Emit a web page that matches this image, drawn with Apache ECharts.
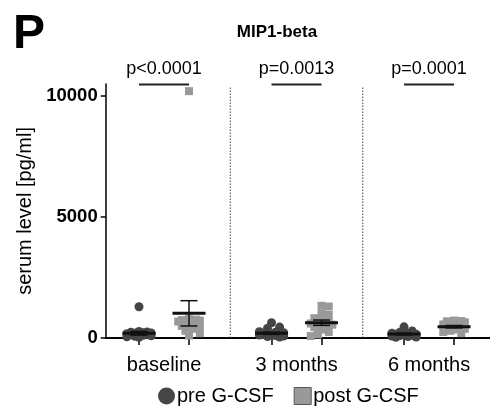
<!DOCTYPE html>
<html>
<head>
<meta charset="utf-8">
<script src="https://cdn.jsdelivr.net/npm/echarts@6/dist/echarts.min.js"></script>
<style>html,body{margin:0;padding:0;background:#fff}#c{width:490px;height:410px}</style>
</head>
<body>
<div id="c"></div>
<script>
// ---- data ----
const categories = ['baseline', '3 months', '6 months'];
const preValues = [
  [1290, 270, 250, 240, 220, 210, 200, 180, 170, 150, 130, 110, 90, 70, 50, 30],
  [630, 450, 400, 260, 240, 220, 200, 180, 160, 140, 120, 100, 80, 60, 40],
  [460, 290, 240, 200, 180, 160, 150, 130, 110, 100, 80, 60, 40, 30]
];
const postValues = [
  [10200, 780, 760, 740, 720, 700, 680, 650, 600, 550, 500, 450, 380, 300, 200, 100],
  [1330, 1300, 1000, 950, 820, 700, 650, 600, 580, 550, 500, 450, 350, 250, 150, 80],
  [720, 700, 690, 650, 600, 560, 520, 480, 450, 420, 380, 350, 300, 250, 200]
];
const preMean = [194, 194, 165];
const preSem = [75, 45, 35];
const postMean = [1020, 632, 467];
const postSem = [522, 110, 50];
const pLabels = ['p<0.0001', 'p=0.0013', 'p=0.0001'];
const yTicks = [0, 5000, 10000];
const seriesNames = ['pre G-CSF', 'post G-CSF'];

// ---- layout ----
const FONT = "'Liberation Sans', Arial, sans-serif";
const W = 490, H = 410;
const GRID = { left: 105.7, right: 0, top: 83.9, bottom: 72 };
const X_MIN = -0.44, X_MAX = 2.46, Y_MAX = 10500;
const PAIR = 0.1887;
const PX_PER_X = (W - GRID.left - GRID.right) / (X_MAX - X_MIN);
const PX_PER_Y = (H - GRID.top - GRID.bottom) / Y_MAX;

function swarm(vals, sizePx) {
  const order = vals.map((v, i) => i).sort((a, b) => vals[b] - vals[a]);
  const placed = [], off = new Array(vals.length);
  const minD = sizePx * 0.72, step = sizePx * 0.45, maxHalf = 13;
  const kMax = 2 * Math.floor(maxHalf / step);
  for (const i of order) {
    const y = vals[i] * PX_PER_Y;
    let best = 0, bestScore = -1;
    for (let k = 0; k <= kMax; k++) {
      const o = (k % 2 ? 1 : -1) * Math.ceil(k / 2) * step;
      let dmin = Infinity;
      for (const p of placed) dmin = Math.min(dmin, Math.hypot(p[0] - o, p[1] - y));
      if (dmin >= minD) { best = o; break; }
      if (dmin > bestScore) { bestScore = dmin; best = o; }
    }
    placed.push([best, y]); off[i] = best;
  }
  return off;
}

function scatterData(groups, side, size) {
  const out = [];
  groups.forEach((vals, g) => {
    const off = swarm(vals, size);
    vals.forEach((v, i) => out.push([g + side * PAIR + off[i] / PX_PER_X, v]));
  });
  return out;
}

const preData = scatterData(preValues, -1, 9);
const postData = scatterData(postValues, 1, 8);
const errData = [];
categories.forEach((c, g) => {
  errData.push([g - PAIR, preMean[g], preSem[g]]);
  errData.push([g + PAIR, postMean[g], postSem[g]]);
});
const sepData = categories.slice(1).map((c, i) => [i + 0.5]);
const pData = pLabels.map((t, g) => [g, Y_MAX - 20, t]);
const tickPos = [];
categories.forEach((c, g) => { tickPos.push(g - PAIR, g + PAIR); });

const chart = echarts.init(document.getElementById('c'), null, { renderer: 'canvas' });
chart.setOption({
  animation: false,
  backgroundColor: '#fff',
  textStyle: { fontFamily: FONT },
  title: [
    { text: 'P', left: 13, top: 11, padding: 0,
      textStyle: { fontFamily: FONT, fontSize: 48, fontWeight: 'bold', color: '#000' } },
    { text: 'MIP1-beta', left: 277, top: 24, padding: 0, textAlign: 'center',
      textStyle: { fontFamily: FONT, fontSize: 17, fontWeight: 'bold', color: '#000' } }
  ],
  legend: {
    data: [
      { name: seriesNames[0], icon: 'circle', itemStyle: { color: '#454545' } },
      { name: seriesNames[1], icon: 'rect', itemStyle: { color: '#999', borderColor: '#555', borderWidth: 1 } }
    ],
    left: 158, top: 386, padding: 0, itemGap: 20, itemWidth: 17, itemHeight: 17,
    textStyle: { fontFamily: FONT, fontSize: 20, color: '#000', padding: [0, 0, 0, -3] }
  },
  grid: Object.assign({ containLabel: false, outerBoundsMode: 'none' }, GRID),
  xAxis: {
    type: 'value', min: X_MIN, max: X_MAX,
    splitLine: { show: false },
    axisLine: { show: true, onZero: false, lineStyle: { color: '#000', width: 2, type: [3, 1.2] } },
    axisTick: { show: true, customValues: tickPos, length: 7, lineStyle: { color: '#000', width: 1.5 } },
    axisLabel: { customValues: categories.map((c, i) => i), formatter: v => categories[Math.round(v)],
      margin: 17, fontSize: 20, color: '#000', fontFamily: FONT }
  },
  yAxis: {
    type: 'value', min: 0, max: Y_MAX, interval: 5000,
    splitLine: { show: false },
    axisLine: { show: true, onZero: false, lineStyle: { color: '#000', width: 1.5 } },
    axisTick: { show: true, customValues: yTicks, length: 5, lineStyle: { color: '#000', width: 1.5 } },
    axisLabel: { customValues: yTicks, formatter: v => String(v), margin: 8, fontSize: 18.5,
      fontWeight: 'bold', color: '#000', fontFamily: FONT },
    name: 'serum level [pg/ml]', nameLocation: 'middle', nameGap: 65,
    nameTextStyle: { fontSize: 20, color: '#000', fontFamily: FONT }
  },
  series: [
    {
      type: 'custom', name: 'sep', silent: true, clip: false, z: 1,
      data: sepData,
      renderItem: (params, api) => {
        const a = api.coord([api.value(0), 0]);
        const b = api.coord([api.value(0), 10400]);
        return { type: 'line', shape: { x1: a[0], y1: a[1], x2: b[0], y2: b[1] },
          style: { stroke: '#444', lineWidth: 1, lineDash: [1.5, 1.5] } };
      }
    },
    {
      type: 'scatter', name: seriesNames[0], data: preData, symbol: 'circle', symbolSize: 9,
      itemStyle: { color: '#454545', opacity: 1 }, z: 3
    },
    {
      type: 'scatter', name: seriesNames[1], data: postData, symbol: 'rect', symbolSize: 8,
      itemStyle: { color: '#999', opacity: 1 }, z: 3
    },
    {
      type: 'custom', name: 'err', silent: true, clip: false, z: 5,
      data: errData,
      renderItem: (params, api) => {
        const x = api.value(0), m = api.value(1), s = api.value(2);
        const c = api.coord([x, m]);
        const t = api.coord([x, m + s]);
        const b = api.coord([x, Math.max(0, m - s)]);
        const st = { stroke: '#111', lineWidth: 1.5 };
        return { type: 'group', children: [
          { type: 'line', shape: { x1: c[0], y1: t[1], x2: c[0], y2: b[1] }, style: st },
          { type: 'line', shape: { x1: c[0] - 8.5, y1: t[1], x2: c[0] + 8.5, y2: t[1] }, style: st },
          { type: 'line', shape: { x1: c[0] - 8.5, y1: b[1], x2: c[0] + 8.5, y2: b[1] }, style: st },
          { type: 'line', shape: { x1: c[0] - 16.5, y1: c[1], x2: c[0] + 16.5, y2: c[1] }, style: { stroke: '#111', lineWidth: 3 } }
        ] };
      }
    },
    {
      type: 'custom', name: 'pval', silent: true, clip: false, z: 5,
      data: pData,
      renderItem: (params, api) => {
        const g = api.value(0), y = api.value(1);
        const a = api.coord([g - PAIR, y]);
        const b = api.coord([g + PAIR, y]);
        const c = api.coord([g, y]);
        return { type: 'group', children: [
          { type: 'line', shape: { x1: a[0], y1: a[1], x2: b[0], y2: b[1] }, style: { stroke: '#222', lineWidth: 2 } },
          { type: 'text', x: c[0], y: c[1] - 15,
            style: { text: pLabels[params.dataIndex], fill: '#000', fontSize: 18, fontFamily: FONT,
              align: 'center', verticalAlign: 'middle' } }
        ] };
      }
    }
  ]
});
</script>
</body>
</html>
